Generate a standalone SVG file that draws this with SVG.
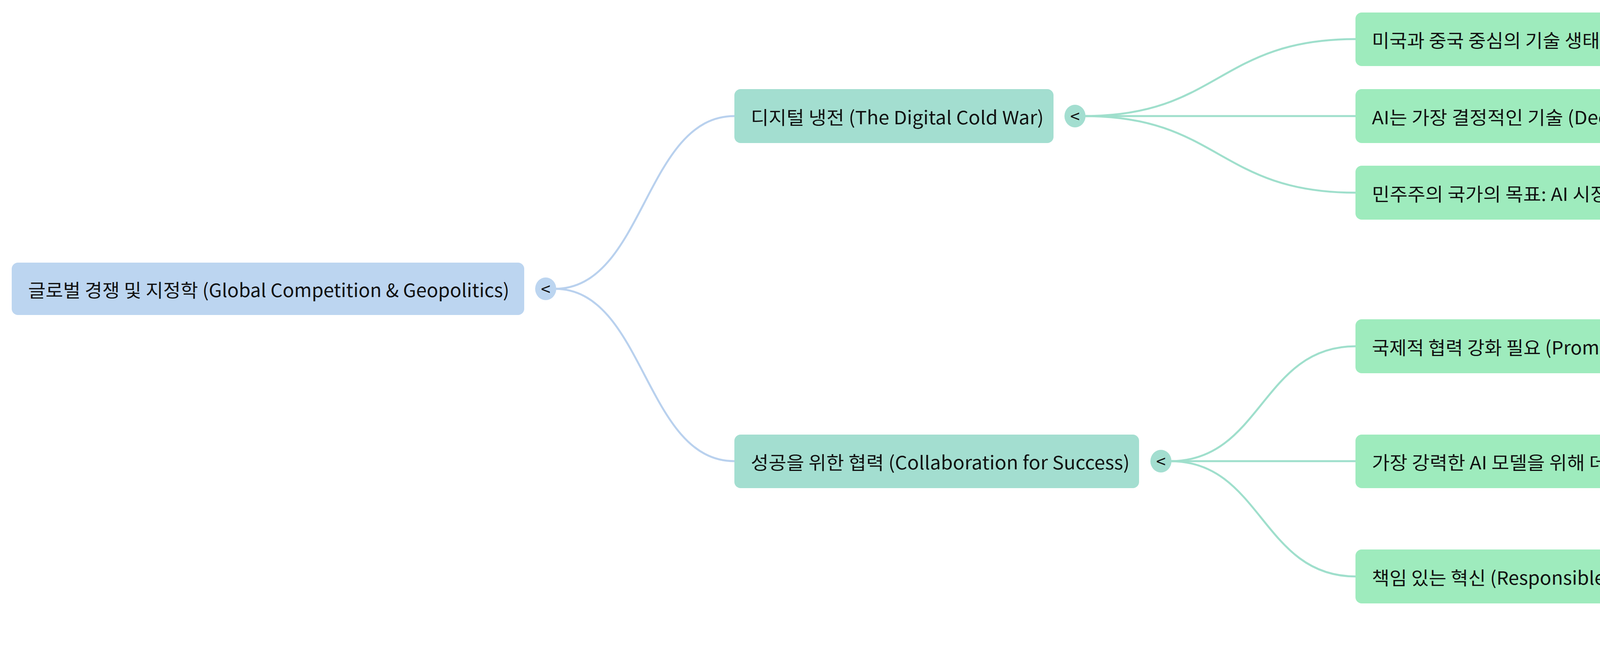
<svg xmlns="http://www.w3.org/2000/svg" width="6633" height="1676" viewBox="0 0 6633 1676">
<style>
text{font-family:"Noto Sans CJK KR","Noto Sans",sans-serif;font-size:47px;fill:#111;dominant-baseline:central}
.c{fill:none;stroke-width:5}
.c0{stroke:#b9d1ee}.c1{stroke:#9fdfcc}.c2{stroke:#a6efc2}
.n0{fill:#bcd5f0}.n1{fill:#a3ded0}.n2{fill:#9eebbd}.n3{fill:#cfffa8}
.t{font-size:44px;text-anchor:middle}
</style>
<rect width="6633" height="1676" fill="#fff"/>
<g id="connectors">
<path class="c c0" d="M1420,739 C1650,739 1650,297 1880,297"/>
<path class="c c0" d="M1420,739 C1650,739 1650,1180 1880,1180"/>
<path class="c c1" d="M2776,297 C3120,297 3120,100 3470,100"/>
<path class="c c1" d="M2776,297 L3470,297"/>
<path class="c c1" d="M2776,297 C3120,297 3120,493 3470,493"/>
<path class="c c1" d="M2996,1180 C3230,1180 3230,886 3470,886"/>
<path class="c c1" d="M2996,1180 L3470,1180"/>
<path class="c c1" d="M2996,1180 C3230,1180 3230,1475 3470,1475"/>
<path class="c c2" d="M4908,886 C5130,886 5130,788 5345,788"/>
<path class="c c2" d="M4908,886 C5130,886 5130,984 5345,984"/>
<path class="c c2" d="M4485,1475 C4915,1475 4915,1377 5345,1377"/>
<path class="c c2" d="M4485,1475 C4915,1475 4915,1573 5345,1573"/>
</g>
<g id="root"><rect class="n0" x="30" y="672" width="1312" height="134" rx="16"/><text x="72" y="739" textLength="1232" lengthAdjust="spacingAndGlyphs">글로벌 경쟁 및 지정학 (Global Competition &amp; Geopolitics)</text><ellipse class="n0" cx="1397" cy="739" rx="27" ry="29"/><text class="t" x="1397" y="737">&lt;</text></g>
<g id="n1"><rect class="n1" x="1880" y="228" width="817" height="138" rx="16"/><text x="1922" y="297" textLength="750" lengthAdjust="spacingAndGlyphs">디지털 냉전 (The Digital Cold War)</text><ellipse class="n1" cx="2752" cy="297" rx="27" ry="29"/><text class="t" x="2752" y="295">&lt;</text></g>
<g id="n2"><rect class="n1" x="1880" y="1112" width="1036" height="137" rx="16"/><text x="1922" y="1180" textLength="970" lengthAdjust="spacingAndGlyphs">성공을 위한 협력 (Collaboration for Success)</text><ellipse class="n1" cx="2972" cy="1180" rx="27" ry="29"/><text class="t" x="2972" y="1178">&lt;</text></g>
<g id="n11"><rect class="n2" x="3470" y="32" width="1562" height="137" rx="16"/><text x="3512" y="100" textLength="1495" lengthAdjust="spacingAndGlyphs">미국과 중국 중심의 기술 생태계 분리 (Bipolar High-Technology Future)</text></g>
<g id="n12"><rect class="n2" x="3470" y="228" width="1076" height="138" rx="16"/><text x="3512" y="297" textLength="1005" lengthAdjust="spacingAndGlyphs">AI는 가장 결정적인 기술 (Decisive Technology)</text></g>
<g id="n13"><rect class="n2" x="3470" y="424" width="1282" height="138" rx="16"/><text x="3512" y="493" textLength="1215" lengthAdjust="spacingAndGlyphs">민주주의 국가의 목표: AI 시장 선도 (Market Leaders in AI)</text></g>
<g id="n21"><rect class="n2" x="3470" y="817" width="1361" height="138" rx="16"/><text x="3512" y="886" textLength="1295" lengthAdjust="spacingAndGlyphs">국제적 협력 강화 필요 (Promote International Collaboration)</text><ellipse class="n2" cx="4884" cy="886" rx="27" ry="29"/><text class="t" x="4884" y="884">&lt;</text></g>
<g id="n22"><rect class="n2" x="3470" y="1112" width="1724" height="137" rx="16"/><text x="3512" y="1180" textLength="1655" lengthAdjust="spacingAndGlyphs">가장 강력한 AI 모델을 위해 데이터 필요 (AI Power based on Aggregated Data)</text></g>
<g id="n23"><rect class="n2" x="3470" y="1406" width="935" height="138" rx="16"/><text x="3512" y="1475" textLength="870" lengthAdjust="spacingAndGlyphs">책임 있는 혁신 (Responsible Innovation)</text><ellipse class="n2" cx="4461" cy="1475" rx="27" ry="29"/><text class="t" x="4461" y="1473">&lt;</text></g>
<g id="n211"><rect class="n3" x="5345" y="719" width="1188" height="138" rx="16"/><text x="5387" y="788" textLength="1125" lengthAdjust="spacingAndGlyphs">데이터 공유 정책 채택 (Adopt Data-Sharing Policies)</text></g>
<g id="n212"><rect class="n3" x="5345" y="915" width="1148" height="138" rx="16"/><text x="5387" y="984" textLength="1085" lengthAdjust="spacingAndGlyphs">기술 혁신 공동 창출 장려 (Encourage Co-creation)</text></g>
<g id="n231"><rect class="n3" x="5345" y="1308" width="842" height="137" rx="16"/><text x="5387" y="1377" textLength="775" lengthAdjust="spacingAndGlyphs">민간 및 공공 부문, 시민 사회와의 협력</text></g>
<g id="n232"><rect class="n3" x="5345" y="1504" width="1190" height="138" rx="16"/><text x="5387" y="1573" textLength="1125" lengthAdjust="spacingAndGlyphs">핵심 가치 중심의 시스템 구축 (Enduring Core Values)</text></g>
</svg>
